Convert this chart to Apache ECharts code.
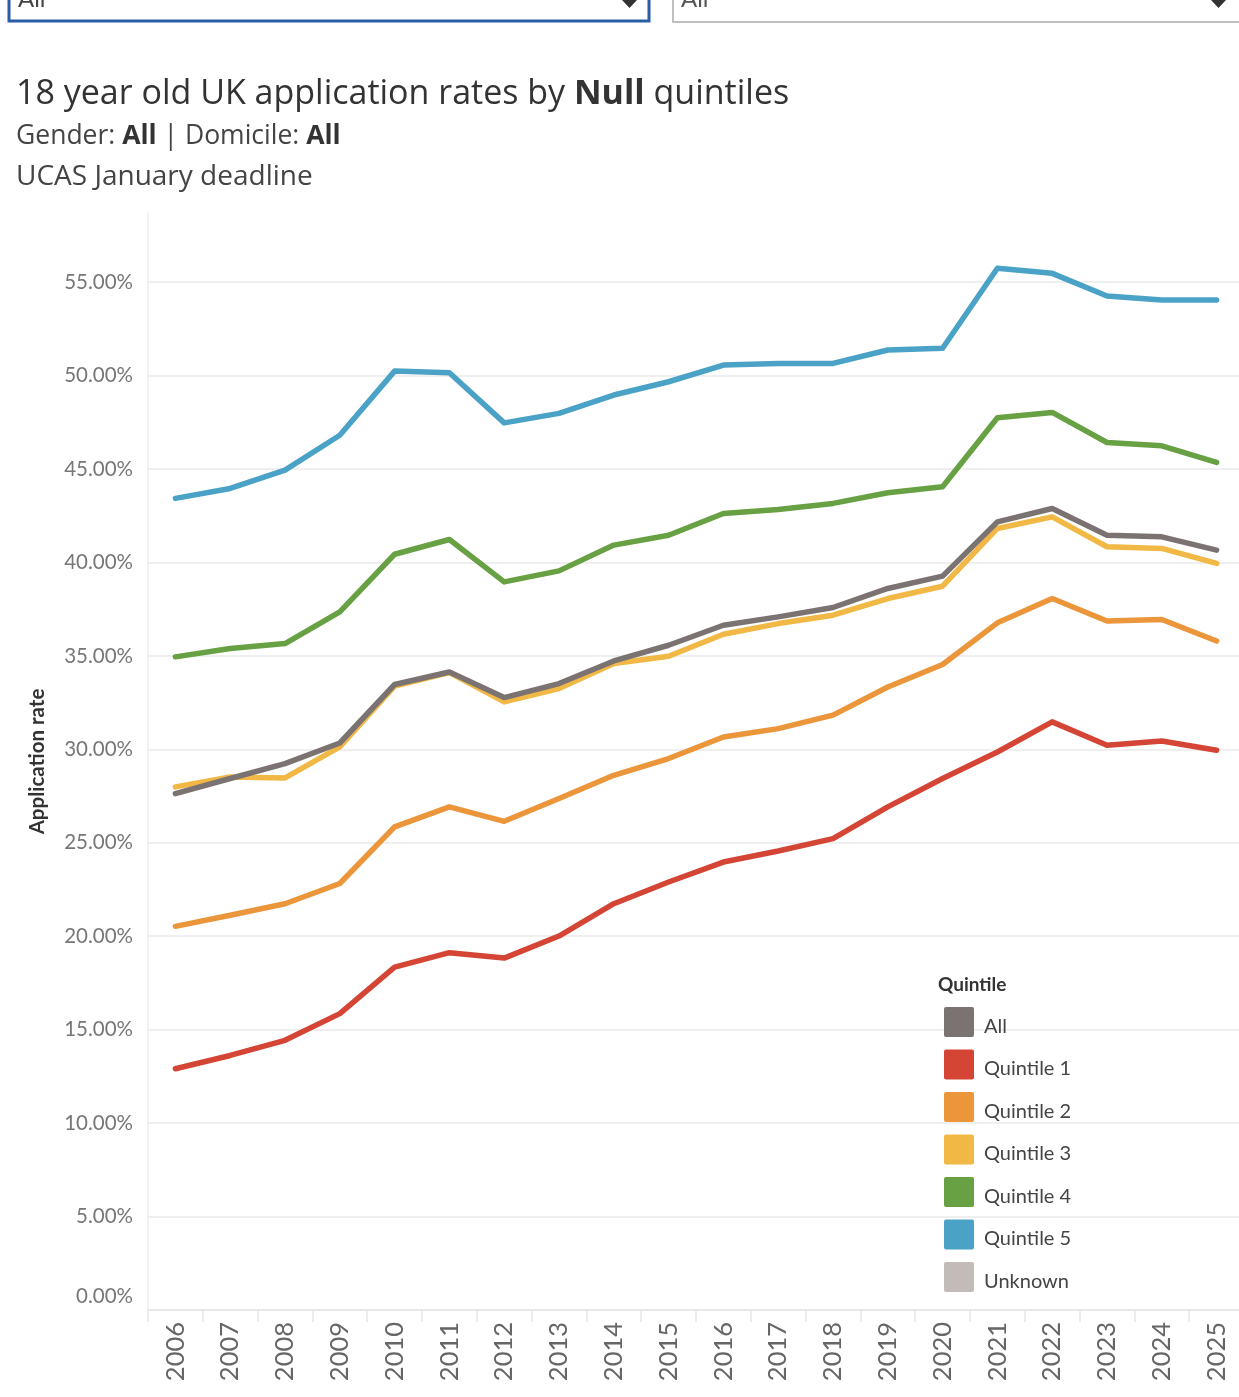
<!DOCTYPE html>
<html>
<head>
<meta charset="utf-8">
<script src="https://cdn.jsdelivr.net/npm/echarts@6/dist/echarts.min.js"></script>
<style>
html,body{margin:0;padding:0;background:#fff;}
#chart{width:1239px;height:1397px;}
</style>
</head>
<body>
<div id="chart"></div>
<script>
var years = ['2006','2007','2008','2009','2010','2011','2012','2013','2014','2015','2016','2017','2018','2019','2020','2021','2022','2023','2024','2025'];
var seriesNames = ['All','Quintile 1','Quintile 2','Quintile 3','Quintile 4','Quintile 5','Unknown'];
var allRate = [27.63,28.44,29.24,30.34,33.47,34.14,32.77,33.52,34.73,35.57,36.64,37.09,37.59,38.61,39.27,42.17,42.89,41.46,41.37,40.66];
var q1Rate = [12.91,13.62,14.43,15.86,18.35,19.12,18.83,20.01,21.74,22.90,23.97,24.56,25.22,26.92,28.44,29.86,31.47,30.22,30.45,29.95];
var q2Rate = [20.53,21.12,21.74,22.82,25.85,26.92,26.15,27.37,28.61,29.51,30.66,31.11,31.83,33.34,34.54,36.77,38.07,36.87,36.95,35.80];
var q3Rate = [27.99,28.52,28.47,30.13,33.38,34.11,32.54,33.25,34.59,34.98,36.16,36.73,37.18,38.07,38.73,41.82,42.44,40.84,40.75,39.95];
var q4Rate = [34.95,35.40,35.66,37.36,40.44,41.23,38.96,39.55,40.93,41.46,42.62,42.84,43.16,43.73,44.05,47.74,48.03,46.42,46.24,45.35];
var q5Rate = [43.43,43.96,44.94,46.81,50.24,50.15,47.47,47.98,48.96,49.67,50.56,50.65,50.65,51.37,51.46,55.74,55.47,54.26,54.04,54.04];
var unknownRate = [];

var colors = {
  'All':'#7b7371','Quintile 1':'#d44535','Quintile 2':'#ec963c','Quintile 3':'#f1b845',
  'Quintile 4':'#68a044','Quintile 5':'#4aa2c6','Unknown':'#c3bbb7'
};
var dataByName = {
  'All':allRate,'Quintile 1':q1Rate,'Quintile 2':q2Rate,'Quintile 3':q3Rate,
  'Quintile 4':q4Rate,'Quintile 5':q5Rate,'Unknown':unknownRate
};
var drawOrder = ['Unknown','Quintile 1','Quintile 2','Quintile 3','Quintile 4','Quintile 5','All'];

var FONT = 'Lato, "Open Sans", sans-serif';
var TFONT = '"Open Sans", Lato, sans-serif';

var series = drawOrder.map(function(n, i){
  return {
    name:n, type:'line', data:dataByName[n], symbol:'none', smooth:false,
    z: 2 + i,
    lineStyle:{width:5.5, color:colors[n], join:'round', cap:'round'},
    itemStyle:{color:colors[n]},
    emphasis:{disabled:true}
  };
});

var chart = echarts.init(document.getElementById('chart'), null, {renderer:'canvas'});
chart.setOption({
  animation:false,
  backgroundColor:'#ffffff',
  title:[
    {text:'18 year old UK application rates by {b|Null} quintiles', left:16, top:77, padding:0,
     textStyle:{fontFamily:TFONT, fontSize:34, fontWeight:'normal', color:'#333',
       rich:{b:{fontFamily:TFONT, fontSize:34, fontWeight:'bold', color:'#333'}}}},
    {text:'Gender: {b|All} | Domicile: {b|All}', left:16, top:123, padding:0,
     textStyle:{fontFamily:TFONT, fontSize:26.5, fontWeight:'normal', color:'#444',
       rich:{b:{fontFamily:TFONT, fontSize:26.5, fontWeight:'bold', color:'#333'}}}},
    {text:'UCAS January deadline', left:16, top:163, padding:0,
     textStyle:{fontFamily:TFONT, fontSize:28, fontWeight:'normal', color:'#444'}},
    {text:'Quintile', left:938, top:975, padding:0,
     textStyle:{fontFamily:FONT, fontSize:19, fontWeight:'bold', color:'#333'}}
  ],
  graphic:[
    {type:'rect', shape:{x:9, y:-20, width:640, height:41}, style:{fill:'#fff', stroke:'#2b5ca6', lineWidth:3}, z:100},
    {type:'text', x:18, y:-13, style:{text:'All', font:'24px '+FONT, fill:'#444'}, z:101},
    {type:'polygon', shape:{points:[[622,0],[637,0],[629.5,8]]}, style:{fill:'#333'}, z:101},
    {type:'rect', shape:{x:673, y:-20, width:580, height:42}, style:{fill:'#fff', stroke:'#aaa', lineWidth:1.5}, z:100},
    {type:'text', x:681, y:-13, style:{text:'All', font:'24px '+FONT, fill:'#555'}, z:101},
    {type:'polygon', shape:{points:[[1211,0],[1226,0],[1218.5,8]]}, style:{fill:'#333'}, z:101}
  ],
  legend:{
    orient:'vertical', left:944, top:1007, padding:0,
    data:seriesNames,
    icon:'path://M2,0 L28,0 Q30,0 30,2 L30,28 Q30,30 28,30 L2,30 Q0,30 0,28 L0,2 Q0,0 2,0 Z',
    itemWidth:30, itemHeight:30, itemGap:12.5,
    selectedMode:false,
    formatter:function(name){ return '{t|' + name + '}'; },
    textStyle:{fontFamily:FONT, fontSize:20, color:'#444',
      rich:{t:{fontFamily:FONT, fontSize:20, color:'#444', padding:[9,0,0,5]}}}
  },
  grid:{left:148, width:1096, top:213, bottom:87, containLabel:false, outerBoundsMode:'none'},
  xAxis:{
    type:'category', data:years, boundaryGap:true,
    axisLine:{show:true, lineStyle:{color:'#e6e6e6', width:1.5}},
    axisTick:{show:true, length:12, lineStyle:{color:'#e6e6e6', width:1.5}},
    axisLabel:{rotate:90, fontFamily:FONT, fontSize:25.5, color:'#666', margin:12, interval:0},
    splitLine:{show:false}
  },
  yAxis:{
    type:'value', min:0, max:58.7, interval:5,
    name:'Application rate', nameLocation:'middle', nameGap:100,
    nameTextStyle:{fontFamily:FONT, fontSize:20.5, fontWeight:'bold', color:'#333'},
    axisLine:{show:true, lineStyle:{color:'#ececec', width:1.5}},
    axisTick:{show:false},
    axisLabel:{
      fontFamily:FONT, fontSize:20.5, color:'#777', margin:15, showMaxLabel:false,
      formatter:function(v){ return v === 0 ? '{z|0.00%}' : v.toFixed(2)+'%'; },
      rich:{z:{fontFamily:FONT, fontSize:20.5, color:'#777', padding:[0,0,28,0]}}
    },
    splitLine:{show:true, showMaxLine:false, lineStyle:{color:'#efefef', width:2}}
  },
  series:series
});
</script>
</body>
</html>
